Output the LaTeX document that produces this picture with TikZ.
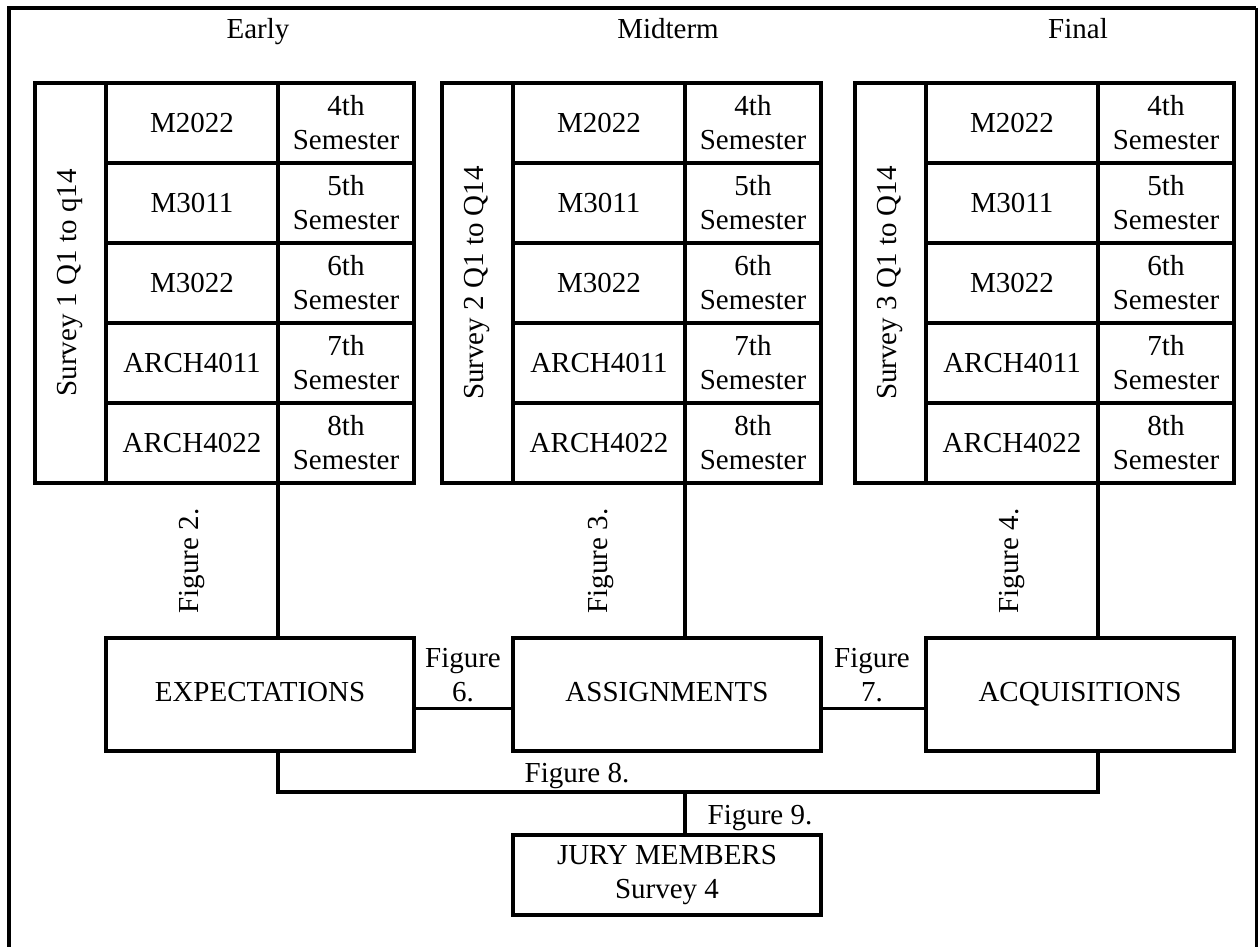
\documentclass[tikz,border=0pt]{standalone}
\usepackage{fontspec}
\setmainfont{Liberation Serif}
\newcommand\myfs{\fontsize{29}{34}\selectfont}
\newcommand\mytable[3]{%
  \node[cell, minimum width=71pt, minimum height=400pt, anchor=north west] (#1s) at (#2,83) {\rotatebox{90}{#3}};
  \foreach \c/\s [count=\i] in {M2022/4th, M3011/5th, M3022/6th, ARCH4011/7th, ARCH4022/8th}{
    \node[cell, minimum width=172pt, minimum height=80pt, anchor=north west] (#1c\i) at (#2+71,3+80*\i) {\c};
    \node[cell, minimum width=136pt, minimum height=80pt, anchor=north west] (#1m\i) at (#2+243,3+80*\i) {\s\\Semester};
  }%
}
\begin{document}
\begin{tikzpicture}[x=1pt,y=-1pt,
  cell/.style={draw, line width=3.5pt, inner sep=0pt, outer sep=0pt, align=center, font=\myfs},
  bigbox/.style={draw, line width=3.5pt, inner sep=0pt, outer sep=0pt, align=center, font=\myfs, minimum width=308pt, minimum height=113pt, anchor=north west},
  conn/.style={line width=3.5pt},
  lbl/.style={font=\myfs, inner sep=0pt, align=center},
  frame/.style={line width=4pt}]
\useasboundingbox (0,0) rectangle (1259,947);

% outer frame
\draw[frame] (9,947) -- (9,8) -- (1256,8);
\draw[line width=3pt] (1256,8) -- (1256,947);

% column headings
\node[lbl, anchor=base] (early) at (258,39) {Early};
\node[lbl, anchor=base] (mid) at (668,39) {Midterm};
\node[lbl, anchor=base] (fin) at (1078,39) {Final};

% tables
\mytable{ta}{35}{Survey 1 Q1 to q14}
\mytable{tb}{442}{Survey 2 Q1 to Q14}
\mytable{tc}{855}{Survey 3 Q1 to Q14}

% main boxes
\node[bigbox] (exp) at (106,638) {\strut EXPECTATIONS};
\node[bigbox] (asg) at (513,638) {\strut ASSIGNMENTS};
\node[bigbox] (acq) at (926,638) {\strut ACQUISITIONS};
\node[bigbox, minimum width=308pt, minimum height=80pt] (jury) at (513,835) {JURY MEMBERS\\Survey 4};

% vertical connectors table -> box
\draw[conn] (tam5.south west) -- (tam5.south west |- exp.north);
\draw[conn] (tbm5.south west) -- (tbm5.south west |- asg.north);
\draw[conn] (tcm5.south west) -- (tcm5.south west |- acq.north);

% horizontal connectors between boxes
\draw[conn] ([yshift=-14pt]exp.east) -- ([yshift=-14pt]asg.west);
\draw[conn] ([yshift=-14pt]asg.east) -- ([yshift=-14pt]acq.west);

% figure 8 bracket and jury link
\draw[conn] (tam5.south west |- exp.south) -- ++(0,41) -| (tcm5.south west |- acq.south);
\draw[conn] (tbm5.south west |- jury.north) -- ++(0,-43);

% figure labels
\node[lbl, rotate=90] (f2) at (192,561) {Figure 2.};
\node[lbl, rotate=90] (f3) at (601,561) {Figure 3.};
\node[lbl, rotate=90] (f4) at (1012,561) {Figure 4.};
\node[lbl] (f6) at (463,675) {Figure\\6.};
\node[lbl] (f7) at (872,675) {Figure\\7.};
\node[lbl] (f8) at (577,776) {Figure 8.};
\node[lbl] (f9) at (760,818) {Figure 9.};
\end{tikzpicture}
\end{document}
